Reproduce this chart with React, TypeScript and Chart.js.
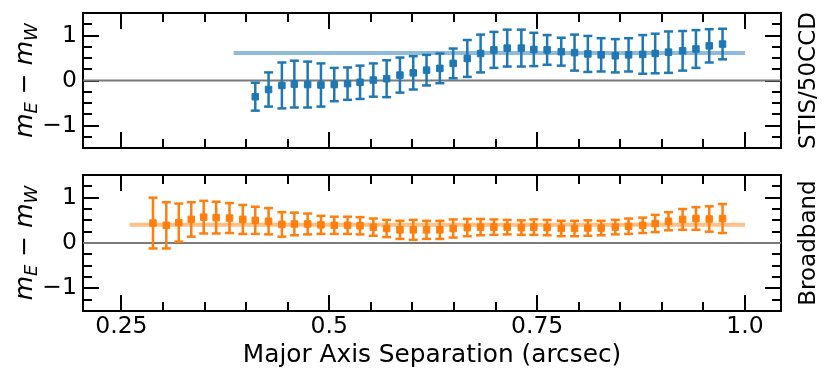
import React, { useEffect, useRef } from 'react';
import { Chart, registerables } from 'chart.js';

Chart.register(...registerables);

// ---------- data ----------
const X_MIN = 0.2038;
const X_MAX = 1.0433;
const Y_MIN = -1.5;
const Y_MAX = 1.5;

const xMajorTicks = [0.25, 0.5, 0.75, 1.0];
const xTickLabels = ['0.25', '0.5', '0.75', '1.0'];
const xMinorTicks = [0.3, 0.35, 0.4, 0.45, 0.55, 0.6, 0.65, 0.7, 0.8, 0.85, 0.9, 0.95];
const yMajorTicks = [-1, 0, 1];
const yTickLabels = ['\u22121', '0', '1'];
const yMinorTicks = [-1.25, -0.75, -0.5, -0.25, 0.25, 0.5, 0.75, 1.25];

const stisX = [
  0.411, 0.427, 0.443, 0.458, 0.474, 0.49, 0.506, 0.522, 0.537, 0.553, 0.569, 0.585,
  0.601, 0.617, 0.633, 0.649, 0.666, 0.682, 0.698, 0.714, 0.731, 0.746, 0.762, 0.779,
  0.795, 0.811, 0.827, 0.844, 0.86, 0.877, 0.892, 0.908, 0.925, 0.941, 0.957, 0.973,
];
const stisY = [
  -0.36, -0.2, -0.11, -0.08, -0.09, -0.1, -0.09, -0.07, -0.04, 0.01, 0.04, 0.12,
  0.17, 0.23, 0.27, 0.38, 0.49, 0.6, 0.68, 0.72, 0.72, 0.69, 0.68, 0.64,
  0.62, 0.59, 0.57, 0.55, 0.57, 0.58, 0.6, 0.63, 0.66, 0.7, 0.77, 0.81,
];
const stisErr = [
  0.31, 0.38, 0.51, 0.52, 0.51, 0.48, 0.37, 0.36, 0.37, 0.37, 0.41, 0.39,
  0.37, 0.34, 0.33, 0.33, 0.41, 0.42, 0.4, 0.41, 0.41, 0.37, 0.33, 0.31,
  0.4, 0.4, 0.37, 0.37, 0.37, 0.43, 0.44, 0.46, 0.44, 0.42, 0.37, 0.34,
];
const stisFitX = [0.385, 1.0];
const stisFitY = 0.61;

const bbX = [
  0.288, 0.304, 0.319, 0.334, 0.349, 0.364, 0.38, 0.396,
  0.411, 0.427, 0.443, 0.458, 0.474, 0.49, 0.506, 0.522, 0.537, 0.553, 0.569, 0.585,
  0.601, 0.617, 0.633, 0.649, 0.666, 0.682, 0.698, 0.714, 0.731, 0.746, 0.762, 0.779,
  0.795, 0.811, 0.827, 0.844, 0.86, 0.877, 0.892, 0.908, 0.925, 0.941, 0.957, 0.973,
];
const bbY = [
  0.44, 0.39, 0.45, 0.52, 0.57, 0.56, 0.55, 0.52,
  0.5, 0.48, 0.41, 0.42, 0.42, 0.4, 0.39, 0.39, 0.38, 0.35, 0.32, 0.29,
  0.29, 0.29, 0.29, 0.32, 0.34, 0.35, 0.35, 0.35, 0.34, 0.35, 0.34, 0.32,
  0.32, 0.33, 0.33, 0.35, 0.37, 0.39, 0.43, 0.48, 0.52, 0.54, 0.53, 0.54,
];
const bbErr = [
  0.56, 0.51, 0.42, 0.38, 0.36, 0.35, 0.33, 0.32,
  0.3, 0.29, 0.27, 0.25, 0.23, 0.2, 0.19, 0.19, 0.19, 0.19, 0.19, 0.2,
  0.22, 0.2, 0.2, 0.2, 0.19, 0.18, 0.17, 0.16, 0.16, 0.17, 0.17, 0.17,
  0.17, 0.17, 0.16, 0.16, 0.17, 0.17, 0.19, 0.2, 0.23, 0.25, 0.28, 0.32,
];
const bbFitX = [0.26, 1.0];
const bbFitY = 0.4;

const BLUE = '#1f77b4';
const BLUE_FIT = 'rgba(31,119,180,0.5)';
const ORANGE = '#ff7f0e';
const ORANGE_FIT = 'rgba(255,127,14,0.5)';

const FONT = "'DejaVu Sans', sans-serif";
const FS = 23.5;
const TITLE_FS = 24.8;
const YLABEL_FS = 25;
const MAJOR_LEN = 16;
const MINOR_LEN = 9;

Chart.defaults.font.family = FONT;

// ---------- helpers ----------
function makeScales(p: { top: number; bottomH: number; showXLabels: boolean; xTitle?: string }) {
  const setTicks = (vals: number[]) => (s: any) => {
    s.ticks = vals.map((v) => ({ value: v }));
  };
  const axisBase = (axis: 'x' | 'y', position: string, vals: number[], len: number, border: boolean, weight: number, size: number) => ({
    type: 'linear',
    axis,
    position,
    display: true,
    min: axis === 'x' ? X_MIN : Y_MIN,
    max: axis === 'x' ? X_MAX : Y_MAX,
    bounds: 'data',
    offset: false,
    weight,
    grid: {
      display: true,
      drawOnChartArea: false,
      drawTicks: true,
      tickLength: -len,
      lineWidth: 2,
      tickWidth: 2,
      tickColor: '#000',
      color: '#000',
      offset: false,
    },
    border: { display: border, color: '#000', width: 2 },
    ticks: { display: false, autoSkip: false },
    afterBuildTicks: setTicks(vals),
    afterFit: (s: any) => {
      if (axis === 'x') s.height = size;
      else s.width = size;
      s.paddingTop = 0;
      s.paddingBottom = 0;
      s.paddingLeft = 0;
      s.paddingRight = 0;
    },
  });

  const x: any = axisBase('x', 'bottom', xMajorTicks, MAJOR_LEN, true, 1, p.bottomH);
  x.ticks = {
    display: p.showXLabels,
    autoSkip: false,
    maxRotation: 0,
    padding: 18,
    color: '#000',
    font: { family: FONT, size: FS },
    callback: (v: number) => {
      const i = xMajorTicks.findIndex((t) => Math.abs(t - v) < 1e-9);
      return i >= 0 ? xTickLabels[i] : '';
    },
  };
  if (p.xTitle) {
    x.title = {
      display: true,
      text: p.xTitle,
      color: '#000',
      font: { family: FONT, size: TITLE_FS },
      padding: { top: 0, bottom: 12 },
    };
  }
  const y: any = axisBase('y', 'left', yMajorTicks, MAJOR_LEN, true, 1, 83);
  y.ticks = {
    display: true,
    autoSkip: false,
    padding: 22,
    color: '#000',
    font: { family: FONT, size: FS },
    callback: (v: number) => {
      const i = yMajorTicks.findIndex((t) => Math.abs(t - v) < 1e-9);
      return i >= 0 ? yTickLabels[i] : '';
    },
  };

  return {
    x,
    xMinor: axisBase('x', 'bottom', xMinorTicks, MINOR_LEN, false, 0, 0),
    xTop: axisBase('x', 'top', xMajorTicks, MAJOR_LEN, true, 1, p.top),
    xTopMinor: axisBase('x', 'top', xMinorTicks, MINOR_LEN, false, 0, 0),
    y,
    yMinor: axisBase('y', 'left', yMinorTicks, MINOR_LEN, false, 0, 0),
    yRight: axisBase('y', 'right', yMajorTicks, MAJOR_LEN, true, 1, 50),
    yRightMinor: axisBase('y', 'right', yMinorTicks, MINOR_LEN, false, 0, 0),
  };
}

function makeDatasets(xs: number[], ys: number[], es: number[], color: string, fitColor: string, fitX: number[], fitY: number) {
  const bars: any[] = [];
  const caps: any[] = [];
  xs.forEach((x, i) => {
    bars.push({ x, y: ys[i] - es[i] }, { x, y: ys[i] + es[i] }, { x, y: null });
    caps.push({ x, y: ys[i] - es[i] }, { x, y: ys[i] + es[i] });
  });
  const pts = xs.map((x, i) => ({ x, y: ys[i] }));
  const common = { xAxisID: 'x', yAxisID: 'y' };
  return [
    {
      ...common, type: 'line', data: [{ x: X_MIN, y: 0 }, { x: X_MAX, y: 0 }],
      borderColor: '#7a7a7a', borderWidth: 2, pointRadius: 0, fill: false, order: 5,
    },
    {
      ...common, type: 'line', data: fitX.map((x) => ({ x, y: fitY })),
      borderColor: fitColor, borderWidth: 4, pointRadius: 0, fill: false, order: 4,
    },
    {
      ...common, type: 'line', data: bars, borderColor: color, borderWidth: 2.5,
      pointRadius: 0, spanGaps: false, fill: false, order: 3,
    },
    {
      ...common, type: 'scatter', data: caps, pointStyle: 'line', pointRadius: 4.5,
      pointBorderWidth: 2.5, pointBorderColor: color, pointBackgroundColor: color, showLine: false, order: 2,
    },
    {
      ...common, type: 'scatter', data: pts, pointStyle: 'rect', pointRadius: 4.6,
      pointBorderWidth: 1, pointBorderColor: color, pointBackgroundColor: color, showLine: false, order: 1,
    },
  ];
}

function drawMathLabel(ctx: CanvasRenderingContext2D, baseX: number, cy: number) {
  const big = `italic ${YLABEL_FS}px ${FONT}`;
  const small = `italic ${Math.round(YLABEL_FS * 0.7)}px ${FONT}`;
  const normal = `${YLABEL_FS}px ${FONT}`;
  const parts = [
    { t: 'm', f: big, dy: 0 },
    { t: 'E', f: small, dy: 5 },
    { t: ' \u2212 ', f: normal, dy: 0 },
    { t: 'm', f: big, dy: 0 },
    { t: 'W', f: small, dy: 5 },
  ];
  ctx.save();
  ctx.translate(baseX, cy);
  ctx.rotate(-Math.PI / 2);
  ctx.fillStyle = '#000';
  ctx.textBaseline = 'alphabetic';
  ctx.textAlign = 'left';
  let total = 0;
  const widths = parts.map((p) => {
    ctx.font = p.f;
    const w = ctx.measureText(p.t).width;
    total += w;
    return w;
  });
  let pos = -total / 2;
  parts.forEach((p, i) => {
    ctx.font = p.f;
    ctx.fillText(p.t, pos, p.dy);
    pos += widths[i];
  });
  ctx.restore();
}

function sideLabels(rightText: string) {
  return {
    id: 'sideLabels',
    afterDraw(chart: any) {
      const { ctx, chartArea } = chart;
      const cy = (chartArea.top + chartArea.bottom) / 2;
      ctx.save();
      ctx.translate(815, cy);
      ctx.rotate(-Math.PI / 2);
      ctx.fillStyle = '#000';
      ctx.font = `23px ${FONT}`;
      ctx.textAlign = 'center';
      ctx.textBaseline = 'alphabetic';
      ctx.fillText(rightText, 0, 0);
      ctx.restore();
      drawMathLabel(ctx, 32, cy);
    },
  };
}

function makeConfig(p: {
  xs: number[]; ys: number[]; es: number[]; color: string; fitColor: string; fitX: number[]; fitY: number;
  top: number; bottomH: number; showXLabels: boolean; xTitle?: string; rightText: string;
}): any {
  return {
    type: 'scatter',
    data: { datasets: makeDatasets(p.xs, p.ys, p.es, p.color, p.fitColor, p.fitX, p.fitY) },
    options: {
      responsive: false,
      maintainAspectRatio: false,
      animation: false,
      devicePixelRatio: 1,
      events: [],
      layout: { padding: 0, autoPadding: false },
      plugins: { legend: { display: false }, tooltip: { enabled: false }, title: { display: false } },
      scales: makeScales({ top: p.top, bottomH: p.bottomH, showXLabels: p.showXLabels, xTitle: p.xTitle }),
    },
    plugins: [sideLabels(p.rightText)],
  };
}

export default function App() {
  const topRef = useRef<HTMLCanvasElement>(null);
  const botRef = useRef<HTMLCanvasElement>(null);

  useEffect(() => {
    const c1 = new Chart(topRef.current as HTMLCanvasElement, makeConfig({
      xs: stisX, ys: stisY, es: stisErr, color: BLUE, fitColor: BLUE_FIT, fitX: stisFitX, fitY: stisFitY,
      top: 13, bottomH: 12, showXLabels: false, rightText: 'STIS/50CCD',
    }));
    const c2 = new Chart(botRef.current as HTMLCanvasElement, makeConfig({
      xs: bbX, ys: bbY, es: bbErr, color: ORANGE, fitColor: ORANGE_FIT, fitX: bbFitX, fitY: bbFitY,
      top: 15, bottomH: 71, showXLabels: true, xTitle: 'Major Axis Separation (arcsec)', rightText: 'Broadband',
    }));
    return () => {
      c1.destroy();
      c2.destroy();
    };
  }, []);

  return (
    <div style={{ position: 'fixed', left: 0, top: 0, width: 831, height: 382, background: '#fff' }}>
      <canvas
        ref={topRef}
        width={831}
        height={160}
        style={{ position: 'absolute', left: 0, top: 0, width: 831, height: 160, display: 'block' }}
      />
      <canvas
        ref={botRef}
        width={831}
        height={222}
        style={{ position: 'absolute', left: 0, top: 160, width: 831, height: 222, display: 'block' }}
      />
    </div>
  );
}
